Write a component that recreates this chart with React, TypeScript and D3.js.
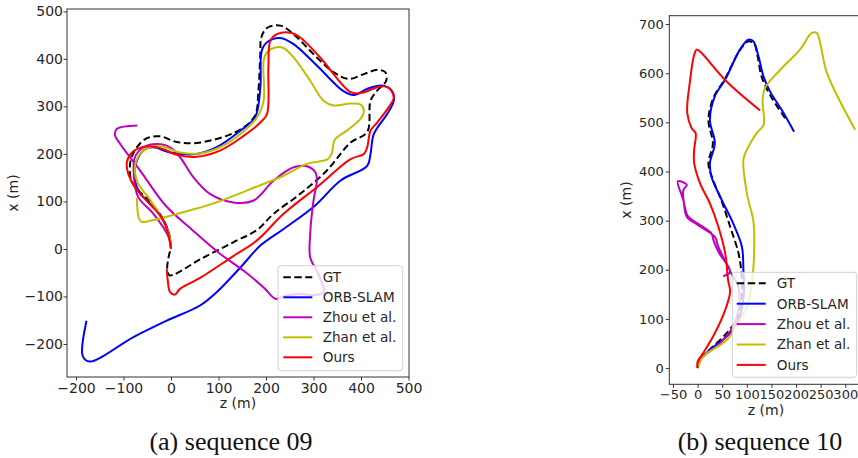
import React, { useRef, useEffect } from "react";
import * as d3 from "d3";

type Pt = [number, number]; // [z (m), x (m)]

const seriesNames = ["GT", "ORB-SLAM", "Zhou et al.", "Zhan et al.", "Ours"];
const seriesColors = ["#000000", "#0000ff", "#bf00bf", "#bfbf00", "#ff0000"];

// ---- sequence 09 ----
const seq09Ticks = [-200, -100, 0, 100, 200, 300, 400, 500];

const seq09GT: Pt[] = [
  [0, 0], [-4, 30], [-18, 65], [-45, 100], [-68, 122], [-80, 137], [-86, 155],
  [-85, 186], [-72, 214], [-51, 233], [-23, 237], [12, 225], [54, 223], [117, 238],
  [153, 256], [177, 281], [184, 333], [188, 410], [190, 445], [202, 465], [230, 470],
  [258, 452], [307, 403], [342, 372], [374, 358], [406, 368], [434, 377], [451, 372],
  [453, 354], [434, 333], [420, 312], [413, 246], [378, 224], [328, 165], [272, 116],
  [216, 74], [181, 40], [131, 14], [61, -22], [6, -54], [-4, -55], [-8, -42],
  [-4, -12], [0, 0],
];
const seq09ORB: Pt[] = [
  [0, 0], [-5, 35], [-25, 75], [-52, 103], [-66, 118], [-76, 144], [-74, 179],
  [-58, 207], [-37, 214], [-2, 203], [54, 200], [96, 214], [146, 249], [177, 277],
  [188, 340], [191, 417], [202, 435], [230, 444], [258, 431], [307, 386], [363, 332],
  [385, 324], [413, 337], [444, 344], [465, 333], [469, 312], [455, 284], [427, 242],
  [420, 200], [413, 175], [357, 144], [303, 91], [237, 42], [188, 7], [146, -39],
  [96, -91], [61, -119], [-9, -151], [-80, -186], [-171, -237], [-186, -225],
  [-178, -151],
];
const seq09Zhou: Pt[] = [
  [0, 0], [-5, 25], [-16, 45], [-37, 74], [-69, 109], [-78, 151], [-76, 193],
  [-58, 214], [-30, 221], [-2, 214], [19, 193], [47, 151], [82, 116], [131, 98],
  [174, 102], [216, 144], [258, 172], [286, 174], [304, 161], [307, 144], [300, 102],
  [293, 32], [293, -18], [307, -46], [318, -72], [322, -90], [305, -97], [270, -95],
  [235, -100], [220, -105], [195, -81], [153, -46], [103, -10], [47, 38], [-12, 92],
  [-65, 165], [-107, 221], [-118, 240], [-114, 253], [-71, 260],
];
const seq09Zhan: Pt[] = [
  [0, 0], [-4, 30], [-20, 65], [-48, 109], [-69, 137], [-76, 172], [-65, 200],
  [-44, 214], [-23, 217], [19, 203], [61, 201], [103, 214], [146, 242], [181, 277],
  [195, 312], [195, 396], [202, 414], [219, 424], [237, 423], [258, 403], [293, 354],
  [321, 312], [342, 302], [378, 306], [399, 304], [406, 291], [399, 274], [370, 249],
  [345, 230], [338, 200], [330, 189], [286, 179], [237, 154], [167, 126], [96, 98],
  [50, 84], [-50, 58], [-62, 57], [-68, 66], [-72, 108],
];
const seq09Ours: Pt[] = [
  [0, 0], [-6, 32], [-20, 66], [-48, 98], [-76, 130], [-90, 158], [-93, 182],
  [-85, 200], [-70, 211], [-44, 216], [-16, 210], [12, 198], [54, 194], [103, 207],
  [153, 238], [188, 266], [202, 284], [205, 382], [209, 438], [223, 452], [251, 455],
  [272, 445], [314, 403], [378, 330], [399, 328], [441, 342], [458, 339], [469, 319],
  [458, 298], [434, 266], [420, 249], [413, 214], [406, 200], [378, 189], [307, 130],
  [237, 74], [181, 18], [131, -15], [61, -61], [19, -84], [8, -96], [-2, -91],
  [-7, -65], [-9, -42],
];

// ---- sequence 10 ----
const seq10ZTicks = [-50, 0, 50, 100, 150, 200, 250, 300];
const seq10XTicks = [0, 100, 200, 300, 400, 500, 600, 700];

const seq10GT: Pt[] = [
  [0, 0], [3, 15], [25, 38], [60, 72], [82, 105], [90, 150], [89, 193], [83, 234],
  [66, 288], [48, 342], [29, 389], [22, 417], [31, 457], [22, 505], [33, 552],
  [55, 587], [86, 647], [103, 665], [115, 660], [122, 634], [130, 593], [147, 556],
  [178, 508],
];
const seq10ORB: Pt[] = [
  [0, 0], [5, 16], [25, 37], [66, 71], [86, 105], [94, 152], [93, 200], [90, 247],
  [72, 295], [49, 342], [28, 390], [25, 417], [35, 458], [25, 505], [35, 553],
  [56, 587], [86, 648], [103, 668], [113, 665], [123, 637], [134, 593], [147, 563],
  [171, 525], [196, 481],
];
const seq10Zhou: Pt[] = [
  [0, 0], [8, 20], [45, 50], [72, 84], [84, 125], [83, 166], [72, 186], [55, 220],
  [42, 247], [35, 267], [1, 291], [-22, 308], [-29, 342], [-40, 380], [-22, 373],
  [-29, 362], [-26, 328], [-19, 308], [5, 291], [28, 274], [32, 261], [42, 237],
  [66, 196], [52, 187],
];
const seq10Zhan: Pt[] = [
  [0, 0], [11, 23], [59, 57], [86, 98], [103, 132], [113, 200], [115, 267],
  [113, 301], [100, 356], [93, 424], [100, 444], [120, 478], [134, 495], [132, 546],
  [137, 570], [168, 607], [208, 648], [232, 682], [242, 682], [249, 661], [263, 600],
  [320, 485],
];
const seq10Ours: Pt[] = [
  [0, 0], [0, 13], [11, 30], [35, 71], [56, 118], [66, 155], [62, 179], [56, 234],
  [42, 288], [25, 335], [5, 376], [-7, 417], [-7, 444], [-4, 478], [-12, 488],
  [-21, 519], [-16, 580], [-7, 637], [-2, 648], [5, 644], [59, 583], [127, 524],
];

const SANS = "DejaVu Sans";

const panels = [
  {
    series: [seq09GT, seq09ORB, seq09Zhou, seq09Zhan, seq09Ours],
    zDomain: [-219, 501], xDomain: [-269.5, 505],
    left: 67, right: 409, top: 9, bottom: 377,
    zTicks: seq09Ticks, xTicks: seq09Ticks,
    tickFont: 14, xPad: 3, yPad: 0.5,
    zLabel: [238, 408], xLabel: [18, 193],
    legend: { x: 278, y: 265.7, w: 124.7, h: 105, first: 11.6, step: 20, l1: 283.3, l2: 312.3, tx: 322.7 },
    caption: "(a) sequence 09", captionX: 231,
  },
  {
    series: [seq10GT, seq10ORB, seq10Zhou, seq10Zhan, seq10Ours],
    zDomain: [-57.5, 336], xDomain: [-33, 717],
    left: 669.3, right: 863, top: 15.7, bottom: 384.3,
    zTicks: seq10ZTicks, xTicks: seq10XTicks,
    tickFont: 13, xPad: 1.5, yPad: 2,
    zLabel: [766, 415], xLabel: [631, 200],
    legend: { x: 732.3, y: 272.3, w: 124.4, h: 105, first: 11, step: 20.4, l1: 736.7, l2: 765.7, tx: 776.7 },
    caption: "(b) sequence 10", captionX: 760,
  },
];

function drawPanel(svg: any, p: any, idx: number) {
  const x = d3.scaleLinear().domain(p.zDomain).range([p.left, p.right]);
  const y = d3.scaleLinear().domain(p.xDomain).range([p.bottom, p.top]);

  const clipId = `axes-clip-${idx}`;
  svg.append("clipPath").attr("id", clipId)
    .append("rect")
    .attr("x", p.left).attr("y", p.top)
    .attr("width", p.right - p.left).attr("height", p.bottom - p.top);

  const line = d3.line<Pt>()
    .x((d) => x(d[0]))
    .y((d) => y(d[1]))
    .curve(d3.curveCatmullRom.alpha(0.5));

  const plot = svg.append("g").attr("clip-path", `url(#${clipId})`);
  p.series.forEach((s: Pt[], k: number) => {
    plot.append("path")
      .attr("d", line(s))
      .attr("fill", "none")
      .attr("stroke", seriesColors[k])
      .attr("stroke-width", 2)
      .attr("stroke-linejoin", "round")
      .attr("stroke-dasharray", k === 0 ? "7 3.5" : null);
  });

  // axes frame
  svg.append("rect")
    .attr("x", p.left).attr("y", p.top)
    .attr("width", p.right - p.left).attr("height", p.bottom - p.top)
    .attr("fill", "none").attr("stroke", "#333").attr("stroke-width", 1);

  const xAxis = d3.axisBottom(x).tickValues(p.zTicks).tickSize(3.5)
    .tickPadding(p.xPad).tickFormat(d3.format("d"));
  const gx = svg.append("g").attr("transform", `translate(0,${p.bottom})`).call(xAxis);
  gx.select(".domain").remove();

  const yAxis = d3.axisLeft(y).tickValues(p.xTicks).tickSize(3.5)
    .tickPadding(p.yPad).tickFormat(d3.format("d"));
  const gy = svg.append("g").attr("transform", `translate(${p.left},0)`).call(yAxis);
  gy.select(".domain").remove();

  [gx, gy].forEach((g) => {
    g.selectAll("line").attr("stroke", "#333");
    g.selectAll("text")
      .attr("font-size", p.tickFont)
      .attr("font-family", SANS)
      .attr("fill", "#262626");
  });

  // axis labels
  svg.append("text")
    .attr("x", p.zLabel[0]).attr("y", p.zLabel[1])
    .attr("text-anchor", "middle")
    .attr("font-family", SANS).attr("font-size", 14).attr("fill", "#262626")
    .text("z (m)");
  svg.append("text")
    .attr("transform", `translate(${p.xLabel[0]},${p.xLabel[1]}) rotate(-90)`)
    .attr("text-anchor", "middle")
    .attr("font-family", SANS).attr("font-size", 14).attr("fill", "#262626")
    .text("x (m)");

  // legend
  const lg = p.legend;
  const leg = svg.append("g");
  leg.append("rect")
    .attr("x", lg.x).attr("y", lg.y).attr("width", lg.w).attr("height", lg.h)
    .attr("rx", 3).attr("fill", "#fff").attr("fill-opacity", 0.8)
    .attr("stroke", "#d0d0d0").attr("stroke-width", 1);
  seriesNames.forEach((name, k) => {
    const yy = lg.y + lg.first + k * lg.step;
    leg.append("line")
      .attr("x1", lg.l1).attr("x2", lg.l2).attr("y1", yy).attr("y2", yy)
      .attr("stroke", seriesColors[k]).attr("stroke-width", 2)
      .attr("stroke-dasharray", k === 0 ? "7.5 3.5" : null);
    leg.append("text")
      .attr("x", lg.tx).attr("y", yy).attr("dy", "0.36em")
      .attr("font-family", SANS).attr("font-size", 13.6).attr("fill", "#262626")
      .text(name);
  });

  // caption
  svg.append("text")
    .attr("x", p.captionX).attr("y", 450)
    .attr("text-anchor", "middle")
    .attr("font-family", "Liberation Serif, Times New Roman, serif")
    .attr("font-size", 26).attr("fill", "#111")
    .text(p.caption);
}

const App = () => {
  const svgRef = useRef<SVGSVGElement>(null);

  useEffect(() => {
    const svg = d3.select(svgRef.current);
    svg.selectAll("*").remove();
    panels.forEach((p, i) => drawPanel(svg, p, i));
  }, []);

  return (
    <svg
      ref={svgRef}
      width={858}
      height={458}
      style={{ position: "absolute", left: 0, top: 0, background: "#fff" }}
    />
  );
};

export default App;
